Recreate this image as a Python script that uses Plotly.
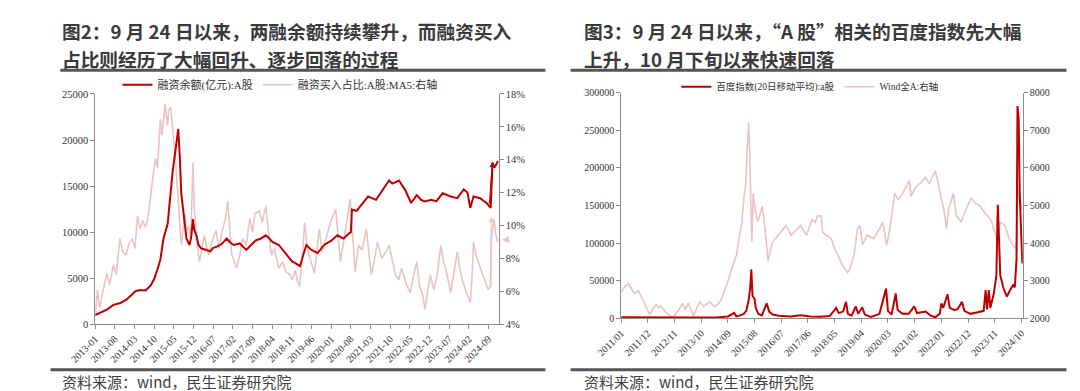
import plotly.graph_objects as go

# ---------------- Figure 2 (left) data ----------------
margin_dates = [
    "2013-01-01", "2013-03-01", "2013-05-07", "2013-07-16", "2013-10-01", "2013-12-01",
    "2014-01-16", "2014-03-16", "2014-05-01", "2014-07-01", "2014-08-25", "2014-10-01",
    "2014-11-01", "2014-12-07", "2015-01-10", "2015-02-01", "2015-02-25", "2015-03-16",
    "2015-04-22", "2015-05-22", "2015-06-19", "2015-07-07", "2015-07-22", "2015-08-16",
    "2015-09-16", "2015-10-19", "2015-11-07", "2015-11-25", "2015-12-10", "2016-01-01",
    "2016-01-25", "2016-02-22", "2016-04-01", "2016-06-01", "2016-07-01", "2016-08-13",
    "2016-10-01", "2016-11-25", "2017-01-01", "2017-02-07", "2017-04-16", "2017-06-25",
    "2017-08-16", "2017-10-10", "2017-12-01", "2018-01-22", "2018-03-01", "2018-04-01",
    "2018-06-13", "2018-08-01", "2018-09-25", "2018-11-01", "2018-12-04", "2019-01-28",
    "2019-03-01", "2019-04-07", "2019-06-01", "2019-08-07", "2019-10-16", "2020-01-10",
    "2020-03-07", "2020-05-16", "2020-07-07", "2020-08-01", "2020-08-13", "2020-10-01",
    "2020-11-10", "2021-02-04", "2021-05-01", "2021-07-16", "2021-09-19", "2021-10-25",
    "2022-01-04", "2022-03-13", "2022-05-16", "2022-07-16", "2022-09-01", "2022-10-13",
    "2022-12-22", "2023-02-13", "2023-04-22", "2023-07-19", "2023-09-28", "2023-12-07",
    "2024-01-16", "2024-02-16", "2024-03-22", "2024-06-01", "2024-08-10", "2024-09-24",
    "2024-10-14", "2024-11-05", "2024-12-12",
]
margin_balance = [
    1000, 1300, 1580, 2100, 2300, 2630,
    3100, 3600, 3700, 3650, 4200, 4900,
    5800, 7000, 9300, 10200, 10900, 13000,
    16800, 19000, 21200, 18000, 14200, 12000,
    9300, 8600, 9500, 11400, 10200, 9680,
    8600, 8240, 8100, 7900, 8300, 8420,
    8700, 9300, 8900, 8600, 8770, 8070,
    8600, 9120, 9300, 9650, 9300, 8950,
    8600, 8000, 7370, 6840, 6660, 6300,
    7400, 8600, 8070, 7720, 8600, 9120,
    9650, 9300, 9820, 10000, 12450, 12300,
    12800, 13860, 13500, 14600, 15600, 15260,
    15600, 14560, 13160, 14030, 13500, 13330,
    13500, 13330, 14210, 13860, 13680, 14630,
    14300, 12630, 13860, 13680, 13160, 12630,
    17550, 17000, 17720,
]

buy_ratio_dates = [
    "2013-01-01", "2013-01-25", "2013-02-16", "2013-03-16", "2013-05-07", "2013-06-07",
    "2013-07-16", "2013-08-16", "2013-09-25", "2013-10-25", "2013-12-01", "2014-01-01",
    "2014-02-10", "2014-03-07", "2014-04-04", "2014-05-01", "2014-06-01", "2014-06-25",
    "2014-07-19", "2014-08-07", "2014-08-25", "2014-09-19", "2014-10-16", "2014-11-07",
    "2014-11-22", "2014-12-07", "2014-12-25", "2015-01-28", "2015-02-22", "2015-03-07",
    "2015-03-28", "2015-04-19", "2015-05-13", "2015-06-01", "2015-06-19", "2015-07-07",
    "2015-07-22", "2015-08-10", "2015-08-28", "2015-09-16", "2015-10-10", "2015-11-01",
    "2015-11-16", "2015-11-25", "2015-12-10", "2016-01-01", "2016-02-04", "2016-03-01",
    "2016-03-28", "2016-04-25", "2016-05-16", "2016-06-16", "2016-08-01", "2016-09-01",
    "2016-10-01", "2016-11-10", "2016-12-07", "2017-01-01", "2017-01-19", "2017-03-13",
    "2017-04-16", "2017-05-16", "2017-06-25", "2017-08-01", "2017-09-01", "2017-09-25",
    "2017-11-13", "2017-12-16", "2018-01-22", "2018-02-16", "2018-03-25", "2018-04-25",
    "2018-06-13", "2018-07-25", "2018-08-25", "2018-10-13", "2018-11-07", "2018-12-07",
    "2019-01-01", "2019-01-22", "2019-02-25", "2019-03-19", "2019-04-16", "2019-05-10",
    "2019-07-04", "2019-08-25", "2019-09-25", "2019-11-01", "2019-12-25", "2020-02-19",
    "2020-03-16", "2020-04-10", "2020-05-22", "2020-06-25", "2020-07-25", "2020-08-19",
    "2020-09-16", "2020-10-25", "2020-12-01", "2021-01-16", "2021-02-13", "2021-03-10",
    "2021-04-16", "2021-05-16", "2021-07-01", "2021-08-16", "2021-09-19", "2021-10-25",
    "2021-11-28", "2022-01-01", "2022-02-01", "2022-03-16", "2022-05-04", "2022-06-10",
    "2022-07-16", "2022-08-16", "2022-09-16", "2022-10-13", "2022-11-16", "2022-12-10",
    "2023-01-16", "2023-02-16", "2023-04-04", "2023-05-01", "2023-05-25", "2023-07-01",
    "2023-07-19", "2023-08-25", "2023-09-28", "2023-10-25", "2023-11-19", "2024-01-01",
    "2024-02-16", "2024-03-07", "2024-03-22", "2024-04-16", "2024-05-10", "2024-06-10",
    "2024-07-16", "2024-08-28", "2024-09-24", "2024-10-01", "2024-10-14", "2024-10-30",
    "2024-11-15", "2024-12-05",
]
buy_ratio = [
    4.5, 6.1, 5.0, 5.8, 7.1, 6.4,
    7.6, 7.0, 9.2, 8.4, 8.2, 8.9,
    9.2, 8.6, 10.6, 9.8, 10.3, 9.9,
    10.2, 11.0, 12.0, 13.0, 14.1, 13.5,
    15.0, 16.5, 15.5, 17.4, 16.1, 17.0,
    17.2, 16.0, 14.5, 13.0, 11.6, 10.5,
    8.8, 9.8, 10.7, 9.5, 10.0, 9.2,
    11.5, 13.8, 11.0, 9.2, 7.8, 8.6,
    9.4, 8.6, 8.2, 9.0, 9.7, 8.6,
    9.5, 10.4, 11.5, 9.5, 8.2, 7.4,
    8.2, 9.2, 8.8, 10.4, 9.6, 10.7,
    10.9, 10.2, 11.2, 9.8, 8.2, 8.6,
    7.4, 7.8, 7.2, 7.0, 6.7, 7.3,
    6.6, 6.3, 8.2, 10.2, 8.8, 8.1,
    7.1, 9.8, 8.4, 9.1, 10.2, 11.0,
    9.2, 7.8, 9.3, 10.5, 11.6, 9.5,
    7.2, 8.8, 8.5, 9.8, 8.2, 7.0,
    8.0, 9.0, 8.0, 8.4, 8.8, 7.8,
    7.0, 6.7, 7.4, 6.6, 5.9, 6.9,
    7.8, 6.3, 5.8, 4.9, 6.2, 7.0,
    6.1, 6.8, 8.8, 7.8, 7.4, 6.5,
    5.9, 7.2, 8.4, 7.4, 6.7, 6.0,
    5.3, 7.0, 9.0, 8.2, 7.8, 7.3,
    6.8, 6.1, 6.3, 9.0, 9.8, 10.4,
    9.6, 9.0,
]

left_tick_labels = [
    "2013-01", "2013-08", "2014-03", "2014-10", "2015-05", "2015-12", "2016-07",
    "2017-02", "2017-09", "2018-04", "2018-11", "2019-06", "2020-01", "2020-08",
    "2021-03", "2021-10", "2022-05", "2022-12", "2023-07", "2024-02", "2024-09",
]

# ---------------- Figure 3 (right) data ----------------
baidu_dates = [
    "2011-01-01", "2011-11-01", "2012-09-01", "2013-07-01", "2014-05-01", "2014-09-01",
    "2014-11-19", "2014-12-16", "2015-02-01", "2015-03-19", "2015-04-19", "2015-05-19",
    "2015-06-07", "2015-06-22", "2015-07-07", "2015-08-01", "2015-08-16", "2015-09-16",
    "2015-11-01", "2016-01-01", "2016-02-01", "2016-03-16", "2016-06-01", "2016-11-01",
    "2017-03-01", "2017-07-01", "2017-11-01", "2018-03-01", "2018-05-22", "2018-06-22",
    "2018-08-16", "2018-09-22", "2018-10-16", "2018-12-01", "2019-01-22", "2019-02-22",
    "2019-04-13", "2019-05-16", "2019-08-01", "2019-11-16", "2020-02-07", "2020-03-01",
    "2020-04-16", "2020-06-07", "2020-07-01", "2020-09-01", "2020-11-16", "2021-01-25",
    "2021-03-01", "2021-06-16", "2021-08-16", "2021-10-16", "2021-12-13", "2022-01-01",
    "2022-01-25", "2022-03-19", "2022-04-16", "2022-06-16", "2022-07-25", "2022-09-16",
    "2022-10-16", "2023-01-01", "2023-04-01", "2023-06-16", "2023-07-10", "2023-07-28",
    "2023-08-19", "2023-09-07", "2023-10-19", "2023-11-22", "2023-12-10", "2023-12-25",
    "2024-01-10", "2024-02-19", "2024-04-01", "2024-05-10", "2024-06-22", "2024-07-10",
    "2024-08-01", "2024-08-13", "2024-08-28", "2024-09-10", "2024-10-01", "2024-10-13",
]
baidu_index = [
    1500, 1200, 1000, 1200, 1500, 2500,
    7300, 2600, 4000, 6000, 10000, 24000,
    40000, 65000, 30000, 26000, 14000, 6000,
    4000, 20000, 9000, 5000, 3500, 2500,
    4000, 2500, 2000, 3000, 13800, 7000,
    9000, 22000, 6000, 3500, 16000, 6000,
    14500, 5000, 2000, 6000, 39500, 10000,
    5000, 33000, 11000, 6000, 6000, 16000,
    7000, 9000, 4000, 1500, 6500, 20000,
    14000, 32000, 14000, 11000, 12500, 22000,
    10000, 6000, 8000, 10000, 37500, 12000,
    37500, 14000, 32000, 57000, 151000, 91000,
    57000, 40000, 29000, 37000, 45000, 41000,
    78000, 282000, 265000, 166000, 106000, 73000,
]

wind_dates = [
    "2011-01-01", "2011-02-16", "2011-04-04", "2011-05-16", "2011-06-16", "2011-08-04",
    "2011-09-16", "2011-10-25", "2011-12-01", "2011-12-25", "2012-02-01", "2012-03-16",
    "2012-04-16", "2012-05-16", "2012-07-16", "2012-09-01", "2012-10-07", "2012-11-07",
    "2013-01-01", "2013-02-07", "2013-03-16", "2013-04-22", "2013-06-01", "2013-06-25",
    "2013-08-01", "2013-09-16", "2013-11-01", "2014-01-16", "2014-03-16", "2014-05-01",
    "2014-06-07", "2014-07-10", "2014-08-07", "2014-09-16", "2014-10-19", "2014-11-19",
    "2014-12-19", "2015-01-19", "2015-02-19", "2015-03-19", "2015-04-13", "2015-05-01",
    "2015-05-19", "2015-06-01", "2015-06-16", "2015-06-28", "2015-07-16", "2015-08-07",
    "2015-09-10", "2015-10-10", "2015-11-07", "2015-12-01", "2016-01-19", "2016-02-16",
    "2016-03-16", "2016-05-01", "2016-07-01", "2016-09-01", "2016-11-01", "2017-01-01",
    "2017-03-01", "2017-04-16", "2017-05-16", "2017-07-22", "2017-09-01", "2017-10-01",
    "2017-11-16", "2017-12-01", "2018-01-16", "2018-03-22", "2018-05-01", "2018-06-13",
    "2018-08-01", "2018-10-13", "2018-11-16", "2019-01-01", "2019-02-13", "2019-03-16",
    "2019-04-16", "2019-06-16", "2019-09-04", "2019-11-16", "2019-12-25", "2020-02-16",
    "2020-03-25", "2020-05-25", "2020-07-07", "2020-09-01", "2020-10-01", "2020-11-25",
    "2020-12-16", "2021-02-16", "2021-04-16", "2021-06-16", "2021-08-01", "2021-10-16",
    "2021-11-16", "2021-12-16", "2022-02-01", "2022-03-07", "2022-04-01", "2022-05-10",
    "2022-06-01", "2022-07-07", "2022-09-07", "2022-11-07", "2023-01-07", "2023-03-01",
    "2023-05-01", "2023-07-10", "2023-09-10", "2023-10-19", "2023-12-01", "2024-01-10",
    "2024-03-10", "2024-05-01", "2024-07-10", "2024-08-01", "2024-08-16", "2024-09-07",
    "2024-10-13",
]
wind_all_a = [
    2700, 2850, 2920, 2780, 2660, 2740,
    2550, 2400, 2250, 2100, 2250, 2360,
    2280, 2330, 2150, 2080, 2020, 2100,
    2250, 2400, 2230, 2400, 2200, 2060,
    2250, 2440, 2310, 2440, 2310, 2380,
    2490, 2650, 2830, 3090, 3300, 3520,
    3700, 4120, 4500, 5150, 5580, 6500,
    7210, 6440, 5300, 4030, 5320, 4900,
    4560, 4800, 4980, 4560, 3520, 3800,
    4040, 4150, 4300, 4470, 4210, 4350,
    4470, 4300, 4210, 4630, 4550, 4730,
    4720, 4300, 4200, 4120, 3850, 3690,
    3430, 3220, 3350, 3700, 4380, 4470,
    3950, 4210, 4120, 4380, 4560, 3950,
    4380, 5320, 5150, 5320, 5450, 5660,
    5240, 5500, 5600, 5750, 5580, 5920,
    5660, 5320, 4900, 4380, 4900, 5150,
    5320, 4730, 4560, 4900, 5200, 5070,
    4980, 4770, 4640, 4380, 4120, 4560,
    4470, 4120, 3860, 4030, 5320, 5150,
    4900,
]

right_tick_labels = [
    "2011/01", "2011/12", "2012/11", "2013/10", "2014/09", "2015/08", "2016/07",
    "2017/06", "2018/05", "2019/04", "2020/03", "2021/02", "2022/01", "2022/12",
    "2023/11", "2024/10",
]

# ---------------- styling ----------------
RED = "#C00000"
PINK = "#EBC3C3"
SERIF = "Liberation Serif, Noto Sans CJK SC"
SANS = "Noto Sans CJK SC"
AX = "#8c8c8c"
W, H = 1080, 391


def px_x(x):
    return x / W


def px_y(y):
    return 1 - y / H


fig = go.Figure()

# left chart: pink on base (right side) axis, red on overlay (left side) axis so it draws on top
fig.add_trace(go.Scatter(x=buy_ratio_dates, y=buy_ratio, mode="lines",
                         name="融资买入占比:A股:MA5:右轴",
                         line=dict(color=PINK, width=1.6), xaxis="x", yaxis="y",
                         legend="legend", legendrank=2))
fig.add_trace(go.Scatter(x=margin_dates, y=margin_balance, mode="lines",
                         name="融资余额(亿元):A股",
                         line=dict(color=RED, width=2), xaxis="x", yaxis="y2",
                         legend="legend", legendrank=1))

# right chart
fig.add_trace(go.Scatter(x=wind_dates, y=wind_all_a, mode="lines",
                         name="Wind全A:右轴",
                         line=dict(color=PINK, width=1.6), xaxis="x2", yaxis="y3",
                         legend="legend2", legendrank=2))
fig.add_trace(go.Scatter(x=baidu_dates, y=baidu_index, mode="lines",
                         name="百度指数(20日移动平均):a股",
                         line=dict(color=RED, width=2), xaxis="x2", yaxis="y4",
                         legend="legend2", legendrank=1))

axis_common = dict(showline=True, linecolor=AX, linewidth=1, ticks="outside",
                   ticklen=4, tickcolor=AX, showgrid=False, zeroline=False,
                   tickformat="d",
                   tickfont=dict(family=SERIF, size=10.5, color="#333"))
xaxis_common = dict(showline=True, linecolor=AX, linewidth=1, ticks="outside",
                    ticklen=4, tickcolor=AX, showgrid=False, zeroline=False,
                    type="date", tickangle=-45,
                    tickfont=dict(family=SERIF, size=10, color="#333"))

left_dom_x = [px_x(63), px_x(478)]
left_dom_y = [px_y(320), px_y(82.5)]
right_dom_x = [px_x(604), px_x(1017)]
right_dom_y = [px_y(314), px_y(81)]

fig.update_layout(
    width=W, height=H, margin=dict(l=0, r=0, t=0, b=0),
    paper_bgcolor="white", plot_bgcolor="white",
    xaxis=dict(xaxis_common, domain=left_dom_x, anchor="y",
               range=["2013-01-01", "2024-12-20"],
               tickvals=[t + "-01" for t in left_tick_labels], ticktext=left_tick_labels),
    yaxis=dict(axis_common, domain=left_dom_y, anchor="x", side="right",
               range=[4, 18], dtick=2, ticksuffix="%"),
    yaxis2=dict(axis_common, anchor="x", overlaying="y", side="left",
                range=[0, 25000], dtick=5000),
    xaxis2=dict(xaxis_common, domain=right_dom_x, anchor="y3",
                range=["2011-01-01", "2024-10-18"],
                tickvals=[t.replace("/", "-") + "-01" for t in right_tick_labels],
                ticktext=right_tick_labels),
    yaxis3=dict(axis_common, domain=right_dom_y, anchor="x2", side="right",
                range=[2000, 8000], dtick=1000,
                tickfont=dict(family=SERIF, size=10, color="#333")),
    yaxis4=dict(axis_common, anchor="x2", overlaying="y3", side="left",
                range=[0, 300000], dtick=50000,
                tickfont=dict(family=SERIF, size=10, color="#333")),
    legend=dict(orientation="h", x=px_x(253), xanchor="center", y=px_y(73), yanchor="middle",
                font=dict(family=SERIF, size=11, color="#333"), bgcolor="rgba(0,0,0,0)",
                itemwidth=30, traceorder="normal"),
    legend2=dict(orientation="h", x=px_x(798), xanchor="center", y=px_y(75), yanchor="middle",
                 font=dict(family=SERIF, size=9.5, color="#333"), bgcolor="rgba(0,0,0,0)",
                 itemwidth=30, traceorder="normal"),
)

# titles, rules and source notes
title_font = dict(family=SANS, size=18.7, color="#3a3a3a", weight="bold")
titles = [
    ("图2：9 月 24 日以来，两融余额持续攀升，而融资买入", 27, 17.5),
    ("占比则经历了大幅回升、逐步回落的过程", 27, 45.5),
    ("图3：9 月 24 日以来，“A 股”相关的百度指数先大幅", 564, 17.5),
    ("上升，10 月下旬以来快速回落", 564, 45.5),
]
for txt, x, y in titles:
    fig.add_annotation(xref="paper", yref="paper", x=px_x(x), y=px_y(y), text=txt,
                       xanchor="left", yanchor="middle", showarrow=False,
                       font=title_font)

for txt, x in [("资料来源：wind，民生证券研究院", 27), ("资料来源：wind，民生证券研究院", 564)]:
    fig.add_annotation(xref="paper", yref="paper", x=px_x(x), y=px_y(379), text=txt,
                       xanchor="left", yanchor="middle", showarrow=False,
                       font=dict(family=SANS, size=15, color="#404040"))

for x0, x1, y in [(27, 526, 58), (552, 1062, 58), (17, 526, 367), (552, 1062, 367)]:
    fig.add_shape(type="line", xref="paper", yref="paper", x0=px_x(x0), x1=px_x(x1),
                  y0=px_y(y), y1=px_y(y), line=dict(color="#555555", width=3))

# small arrows marking the post-9/24 moves on the left chart
fig.add_annotation(x="2024-10-12", y=17600, xref="x", yref="y2",
                   ax="2024-09-08", ay=12900, axref="x", ayref="y2",
                   showarrow=True, arrowhead=2, arrowsize=1, arrowwidth=1,
                   arrowcolor=RED, text="")
fig.add_annotation(x="2024-09-30", y=10.5, xref="x", yref="y",
                   ax="2024-09-18", ay=6.3, axref="x", ayref="y",
                   showarrow=True, arrowhead=2, arrowsize=1, arrowwidth=1,
                   arrowcolor=PINK, text="")
fig.add_annotation(xref="paper", yref="y", x=px_x(485), y=9.2, text="◀",
                   showarrow=False, font=dict(size=9, color=PINK))

fig.write_html("out.html")
